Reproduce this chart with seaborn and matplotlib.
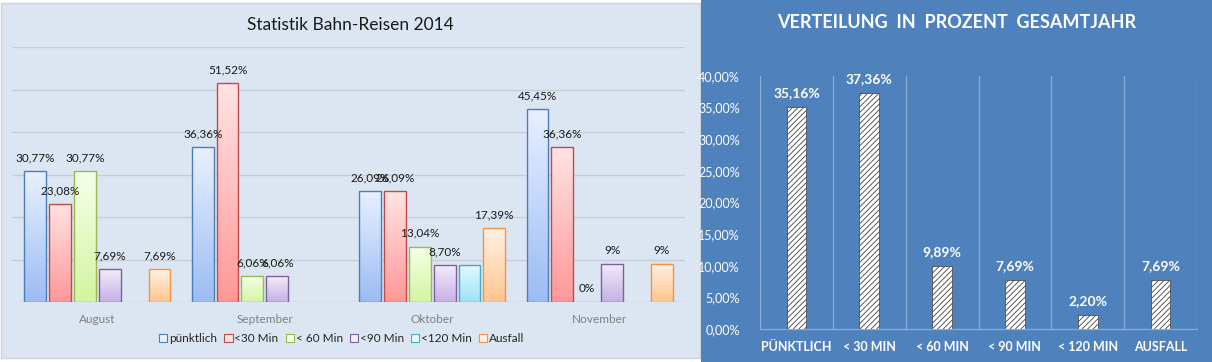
import numpy as np
import pandas as pd
import matplotlib
matplotlib.use("Agg")
import matplotlib.pyplot as plt
from matplotlib.patches import Rectangle, Patch
import seaborn as sns

# left chart data (monthly shares in percent)
months = ["August", "September", "Oktober", "November"]
categories = ["pünktlich", "<30 Min", "< 60 Min", "<90 Min", "<120 Min", "Ausfall"]
puenktlich = [30.77, 36.36, 26.09, 45.45]
unter_30 = [23.08, 51.52, 26.09, 36.36]
unter_60 = [30.77, 6.06, 13.04, 0.0]
unter_90 = [7.69, 6.06, 8.70, 9.0]
unter_120 = [np.nan, np.nan, 8.70, np.nan]
ausfall = [7.69, np.nan, 17.39, 9.0]
label_texts = [
    ["30,77%", "36,36%", "26,09%", "45,45%"],
    ["23,08%", "51,52%", "26,09%", "36,36%"],
    ["30,77%", "6,06%", "13,04%", "0%"],
    ["7,69%", "6,06%", "8,70%", "9%"],
    ["", "", "", ""],
    ["7,69%", "", "17,39%", "9%"],
]

# right chart data (whole year)
year_cats = ["PÜNKTLICH", "< 30 MIN", "< 60 MIN", "< 90 MIN", "< 120 MIN", "AUSFALL"]
year_vals = [35.16, 37.36, 9.89, 7.69, 2.20, 7.69]

# colours: (top of gradient, bottom of gradient, edge)
bar_colors = [
    ("#e8f0ff", "#9cbcf3", "#4a7ebb"),
    ("#ffe3e3", "#ff9898", "#be4b48"),
    ("#f5ffe8", "#d3f5a2", "#98b954"),
    ("#f2ecfa", "#c6b0e6", "#7d60a0"),
    ("#e3f9ff", "#9be3f5", "#46aac5"),
    ("#fff2e4", "#ffc58e", "#f69240"),
]

series = [puenktlich, unter_30, unter_60, unter_90, unter_120, ausfall]
rows = []
for cat, vals in zip(categories, series):
    for m, v in zip(months, vals):
        rows.append({"Monat": m, "Kategorie": cat, "Wert": v})
df = pd.DataFrame(rows)

plt.rcParams["font.family"] = ["Lato", "DejaVu Sans"]
plt.rcParams["hatch.linewidth"] = 0.6

fig = plt.figure(figsize=(12.12, 3.62), dpi=100)
W, H = 1212, 362

# panel backgrounds
fig.patches.append(Rectangle((1 / W, 1 - 358 / H), 699 / W, 355 / H, transform=fig.transFigure,
                             facecolor="#dce6f2", edgecolor="#cfd4da", lw=1, zorder=-5))
fig.patches.append(Rectangle((701 / W, 0), 511 / W, 1, transform=fig.transFigure,
                             facecolor="#4f81bd", edgecolor="none", zorder=-5))

# ---------- left chart ----------
ax1 = fig.add_axes([12 / W, (H - 302) / H, 673 / W, 255 / H])
ax1.set_facecolor("none")
palette = {c: col[1] for c, col in zip(categories, bar_colors)}
sns.barplot(data=df, x="Monat", y="Wert", hue="Kategorie", hue_order=categories,
            palette=palette, width=0.89, gap=0.12, legend=False, ax=ax1, zorder=3)

for i, cont in enumerate(ax1.containers):
    top, bottom, edge = bar_colors[i]
    grad = np.linspace(0, 1, 64).reshape(-1, 1)
    cmap = matplotlib.colors.LinearSegmentedColormap.from_list("g", [bottom, top])
    for bar in cont:
        h = bar.get_height()
        if np.isnan(h):
            continue
        x0 = bar.get_x()
        w = bar.get_width()
        bar.set_facecolor("none")
        bar.set_edgecolor(edge)
        bar.set_linewidth(1.0)
        bar.set_zorder(4)
        if h > 0:
            im = ax1.imshow(grad, extent=(x0, x0 + w, 0, h), origin="lower", cmap=cmap,
                            aspect="auto", zorder=3, interpolation="bilinear")
            im.set_clip_path(bar)
        # month index from the bar position
        j = int(round(x0 + w / 2))
        txt = label_texts[i][j]
        if txt:
            ax1.annotate(txt, (x0 + w / 2, h), xytext=(0, 9.5),
                         textcoords="offset points", ha="center", va="center",
                         fontsize=8.5, color="#1a1a1a", zorder=6)

ax1.set_ylim(0, 60)
ax1.set_xlim(-0.51, 3.51)
ax1.set_yticks([10, 20, 30, 40, 50, 60])
ax1.yaxis.grid(True, color="#c5cdd8", lw=1)
ax1.set_axisbelow(True)
ax1.axhline(0, color="#bcc5d1", lw=1, zorder=2)
ax1.tick_params(axis="y", left=False, labelleft=False)
ax1.tick_params(axis="x", bottom=False, labelsize=8.5, labelcolor="#7f7f7f", pad=5)
ax1.set_xlabel("")
ax1.set_ylabel("")
for s in ax1.spines.values():
    s.set_visible(False)

handles = [Patch(facecolor=c[0], edgecolor=c[2], lw=0.8) for c in bar_colors]
ax1.legend(handles, categories, loc="center", bbox_to_anchor=(0.49, -0.145), ncol=6,
           frameon=False, fontsize=8.5, handlelength=0.7, handleheight=0.7,
           handletextpad=0.15, columnspacing=0.6, labelcolor="#262626")

fig.text(350 / W, 1 - 25 / H, "Statistik Bahn-Reisen 2014", ha="center", va="center",
         fontsize=12.5, color="#1a1a1a")

# ---------- right chart ----------
ax2 = fig.add_axes([760 / W, 33 / H, 437 / W, 253 / H])
ax2.set_facecolor("none")
sns.barplot(x=year_cats, y=year_vals, color="white", width=0.27, ax=ax2,
            edgecolor="#3f3f3f", linewidth=0.5, hatch="//////", zorder=3)
ax2.set_ylim(0, 40)
ax2.set_xlim(-0.5, 5.5)
for bar, v in zip(ax2.patches, year_vals):
    ax2.annotate(f"{v:.2f}%".replace(".", ","), (bar.get_x() + bar.get_width() / 2, v),
                 xytext=(0, 10), textcoords="offset points", ha="center", va="center",
                 fontsize=10, fontweight="bold", color="white")
for xv in np.arange(-0.5, 6, 1):
    ax2.axvline(xv, color="#8eacd6", lw=0.9, zorder=1)
ax2.set_yticks(np.arange(0, 41, 5))
ax2.set_yticklabels([f"{v:.2f}%".replace(".", ",") for v in np.arange(0, 41, 5)])
ax2.tick_params(axis="y", left=False, labelsize=9, labelcolor="white", pad=11)
ax2.tick_params(axis="x", bottom=False, labelsize=9, labelcolor="white", pad=5)
for lab in ax2.get_xticklabels():
    lab.set_fontweight("bold")
for name, s in ax2.spines.items():
    if name == "bottom":
        s.set_color("#8eacd6")
        s.set_linewidth(0.9)
    else:
        s.set_visible(False)

fig.text(957 / W, 1 - 22 / H, "VERTEILUNG  IN  PROZENT  GESAMTJAHR", ha="center", va="center",
         fontsize=13, fontweight="bold", color="white")

fig.savefig("out.png", dpi=100)
